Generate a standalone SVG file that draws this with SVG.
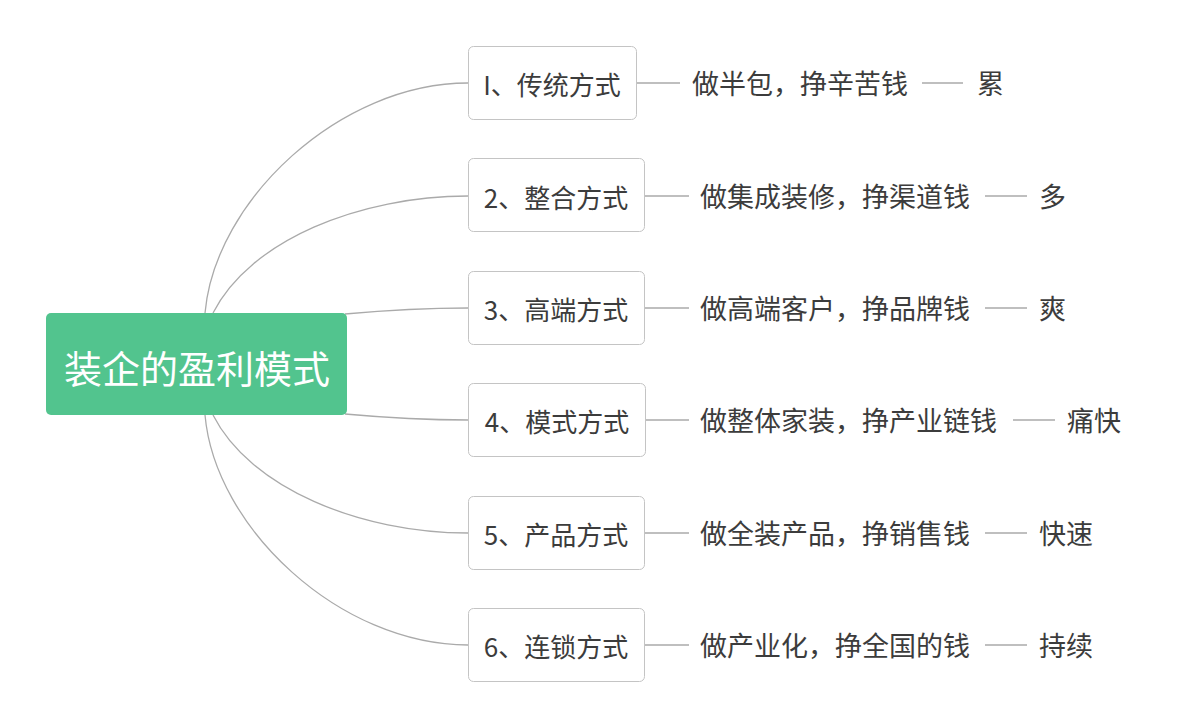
<svg xmlns="http://www.w3.org/2000/svg" width="1179" height="726" viewBox="0 0 1179 726">
<style>
.bg{fill:#ffffff}
.conn path,.conn line{fill:none;stroke:#aaaaaa;stroke-width:1.3}
.box{fill:#ffffff;stroke:#c4c4c4;stroke-width:1}
.root{fill:#52c48e}
.t{font-family:"Noto Sans CJK SC","Liberation Sans",sans-serif;font-size:26px;fill:#3c3c3c;dominant-baseline:central}
.r{font-size:27px}
.rt{font-family:"Noto Sans CJK SC","Liberation Sans",sans-serif;font-size:38px;fill:#ffffff;dominant-baseline:central;text-anchor:middle}
.m{text-anchor:middle}
</style>
<rect class="bg" x="0" y="0" width="1179" height="726"/>
<g id="connectors" class="conn">
<path d="M205,313 C215,200 340,83 468,83"/>
<path d="M213,313 C250,240 360,196 468,196"/>
<path d="M345,314 C400,309 430,308 468,308"/>
<path d="M345,414 C400,419 430,420 468,420"/>
<path d="M213,415 C250,488 360,533 468,533"/>
<path d="M205,415 C215,528 340,645 468,645"/>
<line x1="636" y1="83" x2="680" y2="83"/>
<line x1="922" y1="83" x2="963" y2="83"/>
<line x1="644" y1="196" x2="689" y2="196"/>
<line x1="985" y1="196" x2="1027" y2="196"/>
<line x1="644" y1="308" x2="689" y2="308"/>
<line x1="985" y1="308" x2="1027" y2="308"/>
<line x1="645" y1="420" x2="689" y2="420"/>
<line x1="1013" y1="420" x2="1055" y2="420"/>
<line x1="644" y1="533" x2="689" y2="533"/>
<line x1="985" y1="533" x2="1027" y2="533"/>
<line x1="644" y1="645" x2="689" y2="645"/>
<line x1="985" y1="645" x2="1027" y2="645"/>
</g>
<g id="root">
<rect class="root" x="46" y="313" width="301" height="102" rx="5"/>
<text class="rt" x="197" y="366">装企的盈利模式</text>
</g>
<g id="n1">
<rect class="box" x="468.5" y="46.5" width="168" height="73" rx="5"/>
<text class="t m" x="552" y="83">I、传统方式</text>
</g>
<g id="n1a"><text class="t r" x="692" y="82">做半包，挣辛苦钱</text></g>
<g id="n1b"><text class="t r" x="977" y="82">累</text></g>
<g id="n2">
<rect class="box" x="468.5" y="158.5" width="176" height="73" rx="5"/>
<text class="t m" x="556" y="196">2、整合方式</text>
</g>
<g id="n2a"><text class="t r" x="700" y="195">做集成装修，挣渠道钱</text></g>
<g id="n2b"><text class="t r" x="1039" y="195">多</text></g>
<g id="n3">
<rect class="box" x="468.5" y="271.5" width="176" height="73" rx="5"/>
<text class="t m" x="556" y="308">3、高端方式</text>
</g>
<g id="n3a"><text class="t r" x="700" y="307">做高端客户，挣品牌钱</text></g>
<g id="n3b"><text class="t r" x="1039" y="307">爽</text></g>
<g id="n4">
<rect class="box" x="468.5" y="383.5" width="177" height="73" rx="5"/>
<text class="t m" x="557" y="420">4、模式方式</text>
</g>
<g id="n4a"><text class="t r" x="700" y="419">做整体家装，挣产业链钱</text></g>
<g id="n4b"><text class="t r" x="1067" y="419">痛快</text></g>
<g id="n5">
<rect class="box" x="468.5" y="496.5" width="176" height="73" rx="5"/>
<text class="t m" x="556" y="533">5、产品方式</text>
</g>
<g id="n5a"><text class="t r" x="700" y="532">做全装产品，挣销售钱</text></g>
<g id="n5b"><text class="t r" x="1039" y="532">快速</text></g>
<g id="n6">
<rect class="box" x="468.5" y="608.5" width="176" height="73" rx="5"/>
<text class="t m" x="556" y="645">6、连锁方式</text>
</g>
<g id="n6a"><text class="t r" x="700" y="644">做产业化，挣全国的钱</text></g>
<g id="n6b"><text class="t r" x="1039" y="644">持续</text></g>
</svg>
